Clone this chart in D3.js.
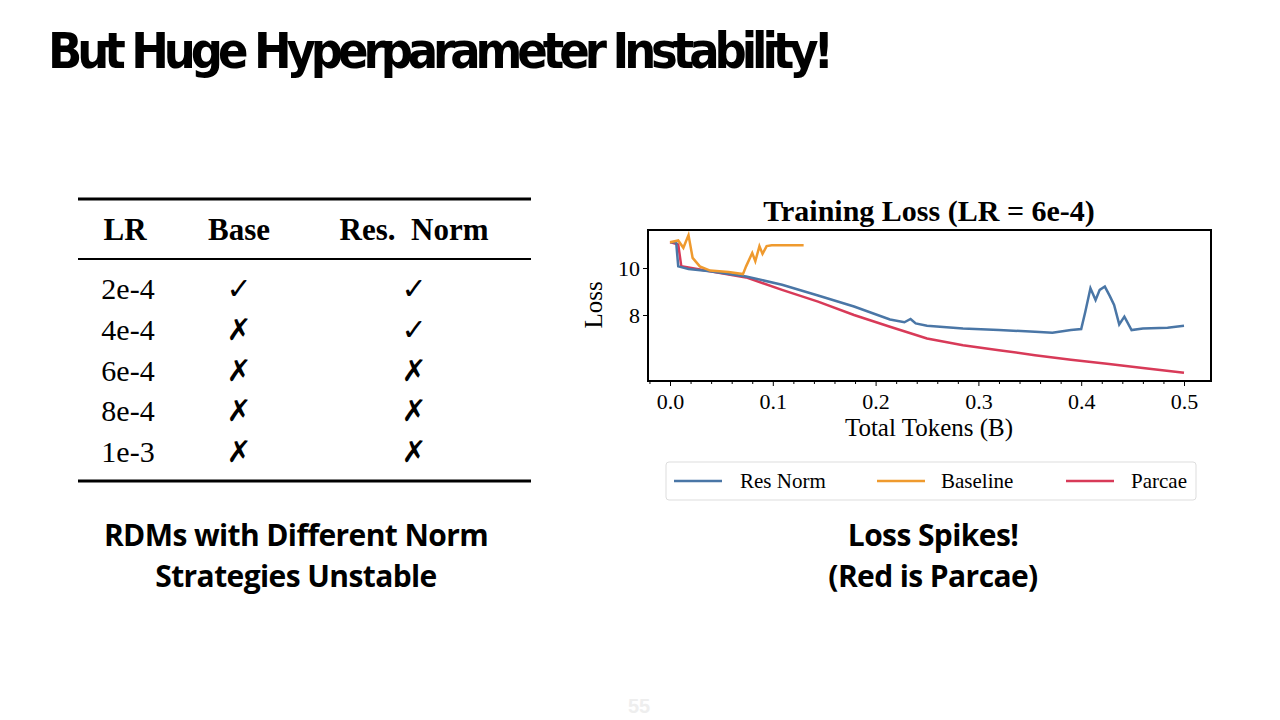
<!DOCTYPE html>
<html><head><meta charset="utf-8">
<script src="https://cdn.jsdelivr.net/npm/d3@7"></script>
<style>
body{margin:0;background:#fff;}
svg{display:block;}
</style></head>
<body>
<svg id="slide" width="1280" height="720"></svg>
<script>
// table data
var lrLabels = ["2e-4", "4e-4", "6e-4", "8e-4", "1e-3"];
var baseOk = [true, false, false, false, false];
var resNormOk = [true, true, false, false, false];

// loss curves: [tokens (B), loss]
var resNorm = [[0,11.1],[0.006,11.1],[0.008,10.07],[0.018,9.96],[0.039,9.86],[0.074,9.64],[0.109,9.29],[0.144,8.83],[0.179,8.36],[0.214,7.81],[0.228,7.69],[0.234,7.83],[0.239,7.64],[0.25,7.54],[0.285,7.43],[0.32,7.36],[0.355,7.29],[0.372,7.24],[0.39,7.36],[0.4,7.4],[0.404,8.14],[0.409,9.14],[0.414,8.64],[0.418,9.07],[0.423,9.21],[0.428,8.79],[0.432,8.43],[0.437,7.6],[0.442,7.93],[0.449,7.36],[0.46,7.43],[0.484,7.46],[0.5,7.54]];
var baseline = [[0,11.1],[0.008,11.17],[0.013,10.86],[0.018,11.4],[0.022,10.43],[0.029,10.07],[0.039,9.89],[0.057,9.83],[0.071,9.74],[0.074,10.07],[0.08,10.64],[0.083,10.29],[0.087,10.93],[0.09,10.6],[0.094,10.93],[0.099,10.97],[0.13,10.97]];
var parcae = [[0,11.1],[0.008,11.0],[0.011,10.07],[0.039,9.86],[0.074,9.6],[0.109,9.07],[0.144,8.57],[0.179,8.0],[0.214,7.5],[0.25,7.0],[0.285,6.71],[0.32,6.5],[0.355,6.29],[0.39,6.1],[0.425,5.93],[0.46,5.74],[0.5,5.54]];
var xTicks = [0, 0.1, 0.2, 0.3, 0.4, 0.5];
var yTicks = [8, 10];

var svg = d3.select("#slide");
var cond = "'Liberation Sans Narrow','DejaVu Sans Condensed',sans-serif";
var serif = "'Liberation Serif','DejaVu Serif',serif";

svg.append("text").attr("x", 48).attr("y", 68).text("But Huge Hyperparameter Instability!")
  .attr("font-family", cond).attr("font-weight", "bold").attr("font-size", 50)
  .attr("textLength", 786);

// ---- table ----
var tbl = svg.append("g");
tbl.append("line").attr("x1", 78).attr("x2", 531).attr("y1", 199).attr("y2", 199).attr("stroke", "#000").attr("stroke-width", 3);
tbl.append("line").attr("x1", 78).attr("x2", 531).attr("y1", 259).attr("y2", 259).attr("stroke", "#000").attr("stroke-width", 2);
tbl.append("line").attr("x1", 78).attr("x2", 531).attr("y1", 481).attr("y2", 481).attr("stroke", "#000").attr("stroke-width", 3);
[["LR",125],["Base",239],["Res.  Norm",414]].forEach(function(h){
  tbl.append("text").attr("x", h[1]).attr("y", 240).attr("text-anchor", "middle")
    .attr("font-family", serif).attr("font-weight", "bold").attr("font-size", 31)
    .attr("xml:space", "preserve").text(h[0]);
});
var rowY = d3.scalePoint().domain(lrLabels).range([288, 451]);
lrLabels.forEach(function(lr, i){
  var y = rowY(lr) + 11;
  tbl.append("text").attr("x", 128).attr("y", y).attr("text-anchor", "middle")
    .attr("font-family", serif).attr("font-size", 30).text(lr);
  tbl.append("text").attr("x", 239).attr("y", y).attr("text-anchor", "middle")
    .attr("font-family", "DejaVu Sans").attr("font-size", 30).text(baseOk[i] ? "✓" : "✗");
  tbl.append("text").attr("x", 414).attr("y", y).attr("text-anchor", "middle")
    .attr("font-family", "DejaVu Sans").attr("font-size", 30).text(resNormOk[i] ? "✓" : "✗");
});

// captions
function caption(lines, cx, y0){
  lines.forEach(function(t, i){
    svg.append("text").attr("x", cx).attr("y", y0 + i*41).attr("text-anchor", "middle")
      .attr("font-family", "'Open Sans',sans-serif").attr("font-weight", "bold").attr("font-size", 30)
      .attr("letter-spacing", -0.6).text(t);
  });
}
caption(["RDMs with Different Norm", "Strategies Unstable"], 296, 546);
caption(["Loss Spikes!", "(Red is Parcae)"], 933, 546);

svg.append("text").attr("x", 639).attr("y", 713).attr("text-anchor", "middle")
  .attr("font-family", "sans-serif").attr("font-weight", "bold").attr("font-size", 20)
  .attr("fill", "#eee").text("55");

// ---- chart ----
var L = 648, R = 1211, T = 230, B = 381;
var x = d3.scaleLinear().domain([0, 0.5]).range([670, 1184]);
var y = d3.scaleLinear().domain([8, 10]).range([315, 268]);

var g = svg.append("g");
g.append("text").attr("x", 929).attr("y", 221).attr("text-anchor", "middle")
  .attr("font-family", serif).attr("font-weight", "bold").attr("font-size", 30)
  .text("Training Loss (LR = 6e-4)");

var xAxis = g.append("g").attr("transform", "translate(0," + B + ")")
  .call(d3.axisBottom(x).tickValues(xTicks).tickFormat(d3.format(".1f")).tickSize(5));
xAxis.select(".domain").remove();
xAxis.selectAll("text").attr("font-family", serif).attr("font-size", 22).attr("fill", "#000").attr("dy", "0.9em");
// minor ticks
g.append("g").attr("transform", "translate(0," + B + ")")
  .call(d3.axisBottom(x).tickValues(d3.range(-0.02, 0.52, 0.02).filter(function(v){ return Math.abs(v*10 - Math.round(v*10)) > 0.01; })).tickFormat("").tickSize(3))
  .select(".domain").remove();

var yAxis = g.append("g").attr("transform", "translate(" + L + ",0)")
  .call(d3.axisLeft(y).tickValues(yTicks).tickFormat(d3.format("d")).tickSize(5));
yAxis.select(".domain").remove();
yAxis.selectAll("text").attr("font-family", serif).attr("font-size", 22).attr("fill", "#000");

g.append("text").attr("transform", "translate(602,305) rotate(-90)").attr("text-anchor", "middle")
  .attr("font-family", serif).attr("font-size", 25).text("Loss");
g.append("text").attr("x", 929).attr("y", 436).attr("text-anchor", "middle")
  .attr("font-family", serif).attr("font-size", 25).text("Total Tokens (B)");

var line = d3.line().x(function(d){ return x(d[0]); }).y(function(d){ return y(d[1]); });
var series = [
  {data: resNorm, color: "#4a76a6", name: "Res Norm", lx: 674, tx: 740},
  {data: baseline, color: "#ef9a2e", name: "Baseline", lx: 877, tx: 941},
  {data: parcae, color: "#d83a58", name: "Parcae", lx: 1066, tx: 1131}
];
g.append("path").datum(parcae).attr("d", line).attr("fill", "none").attr("stroke", "#d83a58").attr("stroke-width", 2.5);
g.append("path").datum(resNorm).attr("d", line).attr("fill", "none").attr("stroke", "#4a76a6").attr("stroke-width", 2.5);
g.append("path").datum(baseline).attr("d", line).attr("fill", "none").attr("stroke", "#ef9a2e").attr("stroke-width", 2.5);

g.append("rect").attr("x", L).attr("y", T).attr("width", R - L).attr("height", B - T)
  .attr("fill", "none").attr("stroke", "#000").attr("stroke-width", 2);

// legend
var lg = g.append("g");
lg.append("rect").attr("x", 666).attr("y", 462).attr("width", 530).attr("height", 38).attr("rx", 3)
  .attr("fill", "#fff").attr("stroke", "#ddd");
series.forEach(function(s){
  lg.append("line").attr("x1", s.lx).attr("x2", s.lx + 48).attr("y1", 481).attr("y2", 481)
    .attr("stroke", s.color).attr("stroke-width", 2.5);
  lg.append("text").attr("x", s.tx).attr("y", 488).attr("font-family", serif).attr("font-size", 21).text(s.name);
});
</script>
</body></html>
